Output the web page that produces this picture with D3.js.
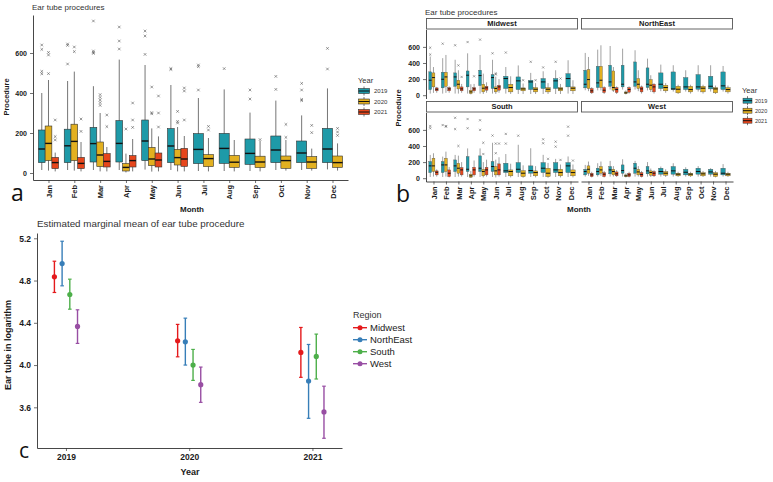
<!DOCTYPE html>
<html><head><meta charset="utf-8">
<script src="https://cdn.jsdelivr.net/npm/d3@7"></script>
<style>
body{margin:0;background:#fff;}
svg{display:block;font-family:"Liberation Sans",Arial,sans-serif;}
</style></head>
<body><svg id="chart" width="773" height="482"></svg>
<script>
// ---------------- DATA ----------------
const months = ["Jan","Feb","Mar","Apr","May","Jun","Jul","Aug","Sep","Oct","Nov","Dec"];
const years = ["2019","2020","2021"];
const yearColors = ["#1E9AA8","#E2B020","#E7461C"];
const procTicks = [0,200,400,600];

// Panel a: [low whisker, q1, median, q3, high whisker] per month
const a2019 = [[15,52,120,215,400],[15,52,136,219,460],[15,55,147,228,434],[15,55,148,262,567],[17,62,160,265,540],[15,52,135,222,440],
               [10,47,118,197,375],[10,48,123,198,418],[10,43,98,170,302],[15,52,115,185,362],[15,52,100,160,288],[18,52,120,223,423]];
const a2020 = [[12,62,148,235,465],[12,62,158,244,507],[8,32,90,155,300],[3,10,28,47,97],[7,37,70,128,223],[8,40,77,118,230],
               [8,32,72,92,175],[8,28,54,88,165],[8,27,55,84,160],[12,23,62,85,165],[12,23,55,82,122],[12,28,52,85,148]];
const a2021 = [[8,22,52,78,102],[8,22,48,78,155],[8,30,58,97,130],[8,30,62,87,170],[8,30,65,100,183],[8,33,70,123,185]];
const aOut2019 = [[640,618,508,496],[645,638,545],[760,610,603,598],[730,660,620],[710,685,593],[522,518],
                  [540,532,415],[522],[415,370],[483,418],[448,415,368,362],[623,520]];
const aOut2020 = [[603,590,497],[630,607],[392,378,365,352,338],[220],[430,302,296],[308,258,250],
                  [233,215],[],[167],[243,178],[238,202],[223,205,188]];
const aOut2021 = [[265,182,165],[270,208],[290,232],[350,265,228],[385,300,230],[425,410,265]];

// Panel b: by region
const regionNames = ["Midwest","NorthEast","South","West"];
const mw2019 = [[20,70,186,290,480],[20,91,198,285,460],[20,111,227,277,440],[20,103,248,301,520],[20,120,244,310,500],[20,83,219,256,440],
                [20,83,207,235,350],[15,70,178,227,370],[15,70,165,186,277],[15,83,165,207,297],[15,83,178,207,310],[20,103,207,268,434]];
const mw2020 = [[29,103,219,277,350],[29,111,227,285,500],[20,78,136,186,310],[10,20,41,62,136],[15,41,87,136,268],[15,41,83,103,230],
                [15,41,95,136,235],[15,54,78,91,145],[15,41,74,95,150],[15,41,74,95,150],[15,54,78,95,140],[15,54,87,103,186]];
const mw2021 = [[30,54,74,91,103],[30,54,78,95,110],[30,54,78,103,140],[30,54,78,95,140],[30,62,91,111,160],[30,62,103,124,200]];
const mwOut2019 = [[590,505],[640],[620],[660],[690],[520],[530],[],[415],[345],[415],[]];
const mwOut2020 = [[],[],[370],[],[],[270,258],[],[186],[186],[],[207],[]];
const mwOut2021 = [[],[],[227],[235],[],[]];

const ne2019 = [[62,91,136,310,525],[60,95,153,359,566],[70,111,165,372,611],[70,103,136,372,578],[70,111,165,413,558],[60,95,136,339,454],
                [50,83,136,277,380],[45,70,78,289,372],[45,70,103,219,310],[45,74,103,256,372],[45,78,111,235,372],[45,70,116,289,363]];
const ne2020 = [[50,83,194,318,475],[60,95,186,359,620],[40,62,95,301,350],[10,20,29,41,60],[50,83,136,207,310],[40,70,124,194,248],
                [30,54,95,124,150],[15,29,74,111,130],[20,41,70,111,130],[20,41,87,111,130],[15,29,78,95,120],[20,41,70,95,120]];
const ne2021 = [[15,29,54,83,100],[15,33,62,95,110],[15,33,70,95,110],[20,37,70,95,110],[20,41,78,103,120],[20,41,103,136,150]];

const so2019 = [[15,70,153,207,289],[15,70,165,207,268],[15,83,153,227,289],[15,83,111,268,370],[15,83,124,277,370],[15,83,145,207,440],
                [15,70,91,186,300],[15,70,111,194,415],[15,62,95,153,372],[15,70,124,194,290],[15,70,103,194,240],[15,70,153,194,270]];
const so2020 = [[20,83,153,248,310],[20,83,165,248,330],[20,62,124,186,280],[5,12,29,50,90],[10,29,83,111,200],[10,41,91,145,230],
                [10,29,83,103,180],[5,20,62,95,160],[10,29,70,91,150],[5,20,62,124,190],[10,29,70,111,170],[10,29,70,103,170]];
const so2021 = [[20,41,74,91,110],[10,20,62,103,140],[20,41,103,132,200],[20,41,103,136,220],[20,41,103,136,230],[20,41,103,178,260]];
const soOut2019 = [[648,620],[660],[750,610],[735,620],[720,600],[530],[550,430],[528],[],[483,434],[454,392],[640,528]];
const soOut2020 = [[],[648,640],[400],[],[440,300],[430,310],[],[],[],[240],[227],[219]];
const soOut2021 = [[],[],[],[],[],[430]];

const we2019 = [[20,41,83,111,165],[20,41,83,124,186],[20,54,103,145,215],[20,62,95,165,235],[20,62,124,186,215],[20,54,91,145,200],
                [20,50,83,124,145],[20,50,91,145,186],[20,41,74,111,136],[20,50,83,124,150],[20,50,78,111,125],[20,41,62,124,175]];
const we2020 = [[30,62,111,153,207],[30,62,103,145,207],[20,41,83,111,150],[10,20,29,41,60],[20,41,78,111,150],[15,37,70,91,120],
                [15,37,62,83,110],[15,29,50,62,80],[15,29,50,62,80],[15,29,54,70,90],[10,20,50,70,90],[15,29,50,62,80]];
const we2021 = [[10,20,41,62,80],[10,20,50,70,90],[15,29,54,78,100],[10,20,41,62,80],[10,20,45,70,90],[15,29,62,83,100]];

// Panel c: estimated marginal means (log scale) with CI
const cYears = [2019, 2020, 2021];
const regionColors = ["#E41A1C","#377EB8","#4DAF4A","#984EA3"];
const emmMean  = {Midwest:[4.835,4.23,4.12], NorthEast:[4.961,4.22,3.849], South:[4.668,4.0,4.082], West:[4.366,3.814,3.556]};
const emmLower = {Midwest:[4.687,4.078,3.884], NorthEast:[4.75,4.0,3.496], South:[4.529,3.855,3.868], West:[4.205,3.647,3.307]};
const emmUpper = {Midwest:[4.983,4.385,4.356], NorthEast:[5.172,4.444,4.195], South:[4.813,4.148,4.293], West:[4.523,3.981,3.8]};
const cTicks = [3.6,4.0,4.4,4.8,5.2];

// ---------------- DRAW ----------------
const svg = d3.select("#chart");
svg.append("rect").attr("width",773).attr("height",482).attr("fill","#fff");
const axisCol = "#333", txtCol = "#1a1a1a";

function styleAxis(g, fs){
  g.select(".domain").attr("stroke",axisCol).attr("stroke-width",0.9);
  g.selectAll(".tick line").attr("stroke",axisCol).attr("stroke-width",0.7);
  g.selectAll(".tick text").attr("fill",txtCol).attr("font-weight","bold").attr("font-size",fs).attr("font-family","Liberation Sans, Arial, sans-serif");
}
function rotMonths(g){
  g.selectAll(".tick text").attr("transform","rotate(-90)").attr("x",-5).attr("y",0).attr("dy","0.35em").attr("text-anchor","end");
}
function cross(g, cx, cy, s, col, sw){
  g.append("path").attr("d",`M${cx-s},${cy-s}L${cx+s},${cy+s}M${cx-s},${cy+s}L${cx+s},${cy-s}`)
   .attr("stroke",col).attr("stroke-width",sw).attr("fill","none");
}
function drawBoxes(g, x, y, series, outs, opt){
  const step = x.step();
  const groupW = 0.78*step;
  months.forEach((m,i)=>{
    const present = series.map((s,k)=>({k, d:s[i], o:outs[k]?outs[k][i]:null})).filter(e=>e.d);
    const n = present.length, w = groupW/n;
    present.forEach((e,j)=>{
      const left = x(m) - groupW/2 + j*w, cx = left + w/2;
      const [lo,q1,md,q3,hi] = e.d;
      g.append("line").attr("x1",cx).attr("x2",cx).attr("y1",y(lo)).attr("y2",y(hi))
        .attr("stroke",opt.whisk).attr("stroke-width",opt.whiskW);
      g.append("rect").attr("x",left+opt.inset).attr("width",w-2*opt.inset).attr("y",y(q3)).attr("height",y(q1)-y(q3))
        .attr("fill",yearColors[e.k]).attr("stroke",opt.boxStroke).attr("stroke-width",opt.boxSW);
      g.append("line").attr("x1",left+opt.inset).attr("x2",left+w-opt.inset).attr("y1",y(md)).attr("y2",y(md))
        .attr("stroke","#111").attr("stroke-width",opt.medW);
      (e.o||[]).forEach(v=>cross(g,cx,y(v),opt.cs,"#555",opt.csw));
    });
  });
}
function legendBoxKey(g, x0, cy, w, h, col, sw){
  g.append("line").attr("x1",x0+w/2).attr("x2",x0+w/2).attr("y1",cy-h/2-2).attr("y2",cy+h/2+2).attr("stroke","#555").attr("stroke-width",0.8);
  g.append("rect").attr("x",x0).attr("y",cy-h/2).attr("width",w).attr("height",h).attr("fill",col).attr("stroke","#333").attr("stroke-width",sw);
  g.append("line").attr("x1",x0).attr("x2",x0+w).attr("y1",cy).attr("y2",cy).attr("stroke","#111").attr("stroke-width",1);
}

// ===== Panel a =====
const gA = svg.append("g");
const xA = d3.scalePoint().domain(months).range([33,348]).padding(0.6);
const yA = d3.scaleLinear().domain([-35,790]).range([180,15]);
gA.append("text").attr("x",32).attr("y",10).attr("font-size",8).attr("fill","#333").text("Ear tube procedures");
drawBoxes(gA, xA, yA, [a2019,a2020,a2021], [aOut2019,aOut2020,aOut2021],
  {whisk:"#666", whiskW:0.9, inset:0, boxStroke:"#333", boxSW:0.6, medW:1.4, cs:1.3, csw:0.6});
const axAy = gA.append("g").attr("transform","translate(33,0)").call(d3.axisLeft(yA).tickValues(procTicks).tickSize(3).tickSizeOuter(0));
styleAxis(axAy,7);
const axAx = gA.append("g").attr("transform","translate(0,180)").call(d3.axisBottom(xA).tickSize(3).tickSizeOuter(0));
styleAxis(axAx,7.5); rotMonths(axAx);
gA.append("text").attr("transform","translate(9,97) rotate(-90)").attr("text-anchor","middle").attr("font-size",7.5).attr("font-weight","bold").attr("fill",txtCol).text("Procedure");
gA.append("text").attr("x",192).attr("y",212).attr("text-anchor","middle").attr("font-size",8).attr("font-weight","bold").attr("fill",txtCol).text("Month");
gA.append("text").attr("x",358).attr("y",83).attr("font-size",7.5).attr("fill","#333").text("Year");
years.forEach((yr,k)=>{
  const cy = 91 + k*10.5;
  legendBoxKey(gA, 358.5, cy, 11, 5, yearColors[k], 0.6);
  gA.append("text").attr("x",374).attr("y",cy).attr("dy","0.35em").attr("font-size",6).attr("fill","#333").text(yr);
});
svg.append("text").attr("x",11).attr("y",201).attr("font-size",23).attr("font-family","Open Sans, sans-serif").attr("fill","#111").text("a");

// ===== Panel b =====
const gB = svg.append("g");
gB.append("text").attr("x",425).attr("y",15).attr("font-size",8).attr("fill","#333").text("Ear tube procedures");
const colX = [[426,578],[581,733]];
const rowY = [[29.5,98.5],[112.5,181.5]];
const facetSeries = [[mw2019,mw2020,mw2021],[ne2019,ne2020,ne2021],[so2019,so2020,so2021],[we2019,we2020,we2021]];
const facetOuts = [[mwOut2019,mwOut2020,mwOut2021],[[],[],[]],[soOut2019,soOut2020,soOut2021],[[],[],[]]];
regionNames.forEach((r,fi)=>{
  const col = fi%2, row = Math.floor(fi/2);
  const [x0,x1] = colX[col], [yt,yb] = rowY[row];
  const xs = d3.scalePoint().domain(months).range([x0,x1]).padding(0.6);
  const ys = d3.scaleLinear().domain([-41,816]).range([yb,yt]);
  gB.append("rect").attr("x",x0+0.5).attr("y",yt-11).attr("width",x1-x0-1).attr("height",10.5)
    .attr("fill","#fff").attr("stroke","#555").attr("stroke-width",0.9);
  gB.append("text").attr("x",(x0+x1)/2).attr("y",yt-3.2).attr("text-anchor","middle").attr("font-size",7.5).attr("font-weight","bold").attr("fill",txtCol).text(r);
  drawBoxes(gB, xs, ys, facetSeries[fi], facetOuts[fi],
    {whisk:"#8a8a8a", whiskW:0.8, inset:0.2, boxStroke:"#4a4a4a", boxSW:0.35, medW:1.0, cs:1.1, csw:0.5});
  if(col===0){
    const ay = gB.append("g").attr("transform",`translate(${x0},0)`).call(d3.axisLeft(ys).tickValues(procTicks).tickSize(3).tickSizeOuter(0));
    styleAxis(ay,7);
  }
  if(row===1){
    const ax = gB.append("g").attr("transform",`translate(0,${yb})`).call(d3.axisBottom(xs).tickSize(3).tickSizeOuter(0));
    styleAxis(ax,7.5); rotMonths(ax);
  }
});
gB.append("text").attr("transform","translate(401,108) rotate(-90)").attr("text-anchor","middle").attr("font-size",7.5).attr("font-weight","bold").attr("fill",txtCol).text("Procedure");
gB.append("text").attr("x",579).attr("y",212).attr("text-anchor","middle").attr("font-size",8).attr("font-weight","bold").attr("fill",txtCol).text("Month");
gB.append("text").attr("x",742).attr("y",93).attr("font-size",7.5).attr("fill","#333").text("Year");
years.forEach((yr,k)=>{
  const cy = 100.7 + k*10;
  legendBoxKey(gB, 743, cy, 9, 5, yearColors[k], 0.5);
  gB.append("text").attr("x",755).attr("y",cy).attr("dy","0.35em").attr("font-size",5.5).attr("fill","#333").text(yr);
});
svg.append("text").attr("x",396).attr("y",202).attr("font-size",23).attr("font-family","Open Sans, sans-serif").attr("fill","#111").text("b");

// ===== Panel c =====
const gC = svg.append("g");
gC.append("text").attr("x",37).attr("y",227).attr("font-size",9.8).attr("fill","#333").text("Estimated marginal mean of ear tube procedure");
const xC = d3.scaleLinear().domain([2018.765,2021.24]).range([37,342]);
const yC = d3.scaleLinear().domain([3.215,5.25]).range([448,233]);
const dodge = d3.scaleBand().domain(regionNames).range([-0.125,0.125]);
regionNames.forEach((r,ri)=>{
  cYears.forEach((yr,yi)=>{
    const cx = xC(yr + dodge(r) + dodge.bandwidth()/2);
    const col = regionColors[ri];
    const yl = yC(emmLower[r][yi]), yu = yC(emmUpper[r][yi]);
    gC.append("line").attr("x1",cx).attr("x2",cx).attr("y1",yl).attr("y2",yu).attr("stroke",col).attr("stroke-width",1.4);
    [yl,yu].forEach(yy=>gC.append("line").attr("x1",cx-1.8).attr("x2",cx+1.8).attr("y1",yy).attr("y2",yy).attr("stroke",col).attr("stroke-width",1.2));
    gC.append("circle").attr("cx",cx).attr("cy",yC(emmMean[r][yi])).attr("r",2.6).attr("fill",col);
  });
});
const axCy = gC.append("g").attr("transform","translate(37,0)").call(d3.axisLeft(yC).tickValues(cTicks).tickFormat(d3.format(".1f")).tickSize(3).tickSizeOuter(0));
styleAxis(axCy,8.5);
const axCx = gC.append("g").attr("transform","translate(0,448)").call(d3.axisBottom(xC).tickValues(cYears).tickFormat(d3.format("d")).tickSize(3).tickSizeOuter(0));
styleAxis(axCx,8.5);
gC.append("text").attr("transform","translate(11,345) rotate(-90)").attr("text-anchor","middle").attr("font-size",9).attr("font-weight","bold").attr("fill",txtCol).text("Ear tube in logarithm");
gC.append("text").attr("x",190).attr("y",475).attr("text-anchor","middle").attr("font-size",9).attr("font-weight","bold").attr("fill",txtCol).text("Year");
gC.append("text").attr("x",353).attr("y",318).attr("font-size",9).attr("fill","#333").text("Region");
regionNames.forEach((r,ri)=>{
  const cy = 327.7 + ri*12;
  gC.append("line").attr("x1",353).attr("x2",367).attr("y1",cy).attr("y2",cy).attr("stroke",regionColors[ri]).attr("stroke-width",1.4);
  gC.append("circle").attr("cx",360).attr("cy",cy).attr("r",2.5).attr("fill",regionColors[ri]);
  gC.append("text").attr("x",370).attr("y",cy).attr("dy","0.35em").attr("font-size",9.5).attr("fill","#222").text(r);
});
svg.append("text").attr("x",19).attr("y",458).attr("font-size",21).attr("font-family","Open Sans, sans-serif").attr("fill","#111").text("c");
</script></body></html>
